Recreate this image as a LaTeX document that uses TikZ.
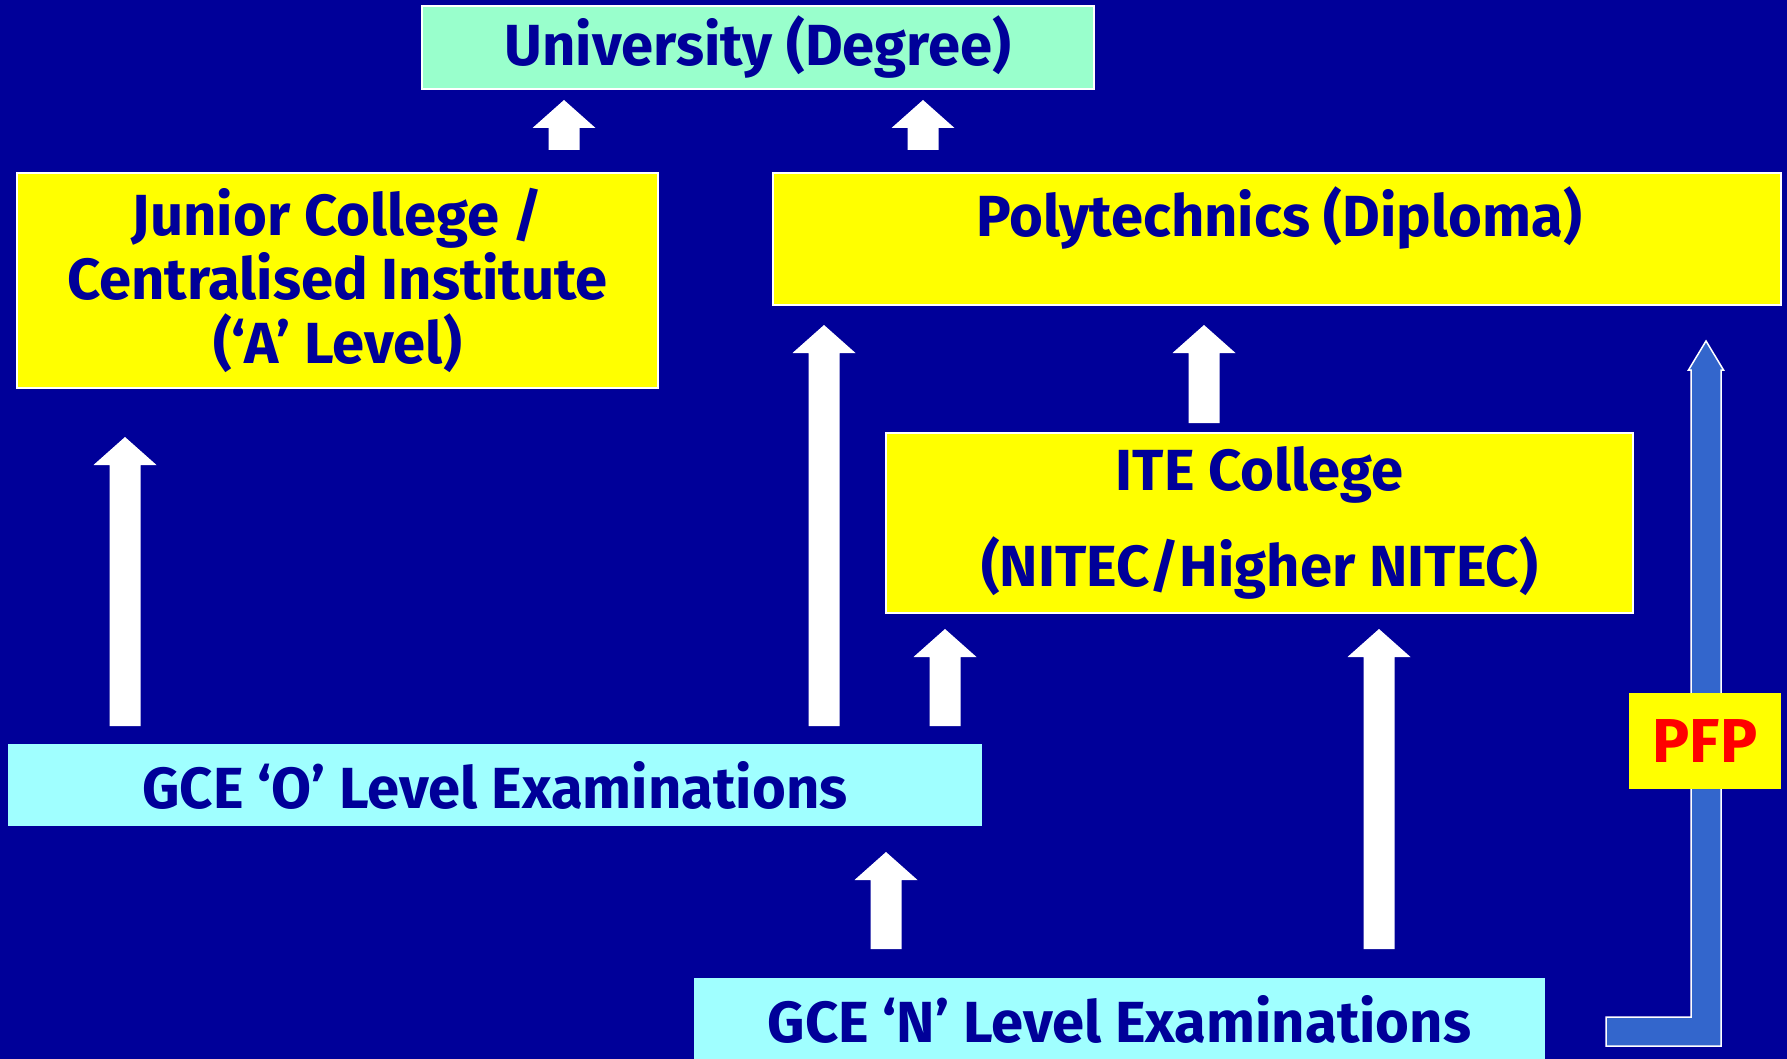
\documentclass[tikz,border=0pt]{standalone}
\usepackage{fontspec}
\setmainfont{Fira Sans}
\usetikzlibrary{calc}
\definecolor{bgblue}{HTML}{000099}
\definecolor{boxyellow}{HTML}{FFFF00}
\definecolor{mint}{HTML}{99FFCC}
\definecolor{lcyan}{HTML}{A0FFFF}
\definecolor{pfpblue}{HTML}{3366CC}
\definecolor{pfpred}{HTML}{FF0000}
\begin{document}
\begin{tikzpicture}[x=0.5pt,y=-0.5pt,
  box/.style={draw=white, line width=1pt, fill=boxyellow, text=bgblue,
    font=\fontsize{29}{32}\selectfont\bfseries, align=center, inner sep=0pt},
  exam/.style={box, draw=none, fill=lcyan},
  txt/.style={text=bgblue, font=\fontsize{29}{32}\selectfont\bfseries, inner sep=0pt},
  blockup/.style={draw=none, fill=white,
    to path={let \p1=(\tikztostart), \p2=(\tikztotarget) in
      ({\x1-7.75pt},{\y1}) -- ({\x1-7.75pt},{\y2-14pt}) -- ({\x1-15.75pt},{\y2-14pt})
      -- (\x2,\y2) -- ({\x1+15.75pt},{\y2-14pt}) -- ({\x1+7.75pt},{\y2-14pt})
      -- ({\x1+7.75pt},{\y1}) -- cycle}},
  pfparrow/.style={draw=white, line width=0.75pt, fill=pfpblue,
    to path={let \p1=(\tikztostart), \p2=(\tikztotarget) in
      (\x1,{\y1+7.25pt}) -- ({\x2-7.5pt},{\y1+7.25pt}) -- ({\x2-7.5pt},{\y2-14.5pt})
      -- ({\x2-8.75pt},{\y2-14.5pt}) -- (\x2,\y2) -- ({\x2+8.75pt},{\y2-14.5pt})
      -- ({\x2+7.5pt},{\y2-14.5pt}) -- ({\x2+7.5pt},{\y1-7.25pt})
      -- (\x1,{\y1-7.25pt}) -- cycle}},
]
\fill[bgblue] (0,0) rectangle (1787,1059);
\useasboundingbox (0,0) rectangle (1787,1059);

% boxes
\node[box, fill=mint, minimum width=336pt, minimum height=41.5pt] (univ) at (758,47.5) {University (Degree)};
\node[box, minimum width=320.5pt, minimum height=107.5pt] (jc) at (337.5,280.5)
  {Junior College /\\Centralised Institute\\(‘A’ Level)};
\node[box, minimum width=504pt, minimum height=66pt] (poly) at (1277,239) {};
\node[txt, anchor=base] (polytext) at (1279,236) {Polytechnics (Diploma)};
\node[box, minimum width=373.5pt, minimum height=90pt] (ite) at (1259.5,523)
  {ITE College\\[16pt](NITEC/Higher NITEC)};
\node[exam, minimum width=487pt, minimum height=41pt] (olev) at (495,785) {GCE ‘O’ Level Examinations};
\node[exam, minimum width=425.5pt, minimum height=42pt] (nlev) at (1119.5,1019.5) {GCE ‘N’ Level Examinations};

% arrow end points
\coordinate (a1s) at (125,726);  \coordinate (a1e) at (125,437);
\coordinate (a2s) at (824,726);  \coordinate (a2e) at (824,325);
\coordinate (a3s) at (1204,423); \coordinate (a3e) at (1204,325);
\coordinate (a4s) at (945,726);  \coordinate (a4e) at (945,629);
\coordinate (a5s) at (1379,949); \coordinate (a5e) at (1379,629);
\coordinate (a6s) at (886,949);  \coordinate (a6e) at (886,852);
\coordinate (a7s) at (564,150);  \coordinate (a7e) at (564,100);
\coordinate (a8s) at (923,150);  \coordinate (a8e) at (923,100);

\draw[blockup] (a1s) to (a1e);
\draw[blockup] (a2s) to (a2e);
\draw[blockup] (a3s) to (a3e);
\draw[blockup] (a4s) to (a4e);
\draw[blockup] (a5s) to (a5e);
\draw[blockup] (a6s) to (a6e);
\draw[blockup] (a7s) to (a7e);
\draw[blockup] (a8s) to (a8e);

% PFP route
\coordinate (pfps) at (1606,1031.5);
\coordinate (pfpe) at (1706,341);
\draw[pfparrow] (pfps) to (pfpe);
\node[box, draw=none, text=pfpred, font=\fontsize{31}{34}\selectfont\bfseries,
  minimum width=76pt, minimum height=48pt] (pfp) at (1705,741) {PFP};
\end{tikzpicture}
\end{document}
